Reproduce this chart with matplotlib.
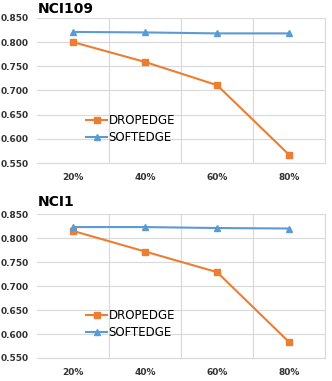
import matplotlib
matplotlib.use('Agg')
import matplotlib.pyplot as plt

cats = ['20%', '40%', '60%', '80%']
titles = ['NCI109', 'NCI1']
drop_nci109 = [0.800, 0.759, 0.711, 0.567]
soft_nci109 = [0.821, 0.820, 0.818, 0.818]
drop_nci1 = [0.815, 0.772, 0.729, 0.583]
soft_nci1 = [0.823, 0.823, 0.821, 0.820]
yticks = [0.550, 0.600, 0.650, 0.700, 0.750, 0.800, 0.850]

orange = '#ED7D31'
blue = '#5B9BD5'
gridc = '#D9D9D9'

fig = plt.figure(figsize=(3.32, 3.81), dpi=100)
ax1 = fig.add_axes([0.1114, 0.572, 0.868, 0.381])
ax2 = fig.add_axes([0.1114, 0.0604, 0.868, 0.3776])

# title tops in figure fraction (pixels from top: 2 and 195)
title_y = [1 - 2 / 381, 1 - 195 / 381]

for ax, title, ty, drop, soft in [(ax1, titles[0], title_y[0], drop_nci109, soft_nci109),
                                  (ax2, titles[1], title_y[1], drop_nci1, soft_nci1)]:
    x = range(len(cats))
    ax.plot(x, drop, color=orange, marker='s', markersize=4.5, lw=1.5, label='DROPEDGE')
    ax.plot(x, soft, color=blue, marker='^', markersize=4.5, lw=1.5, label='SOFTEDGE')
    ax.set_xlim(-0.5, 3.5)
    ax.set_ylim(0.55, 0.85)
    ax.set_yticks(yticks)
    ax.set_yticklabels(['%.3f' % v for v in yticks], fontsize=6.5, fontweight='bold', color='#333333')
    ax.set_xticks(list(x))
    ax.set_xticklabels(cats, fontsize=6.5, fontweight='bold', color='#333333')
    # excel-style gridlines between categories
    for v in [0.5, 1.5, 2.5]:
        ax.axvline(v, color=gridc, lw=0.8, zorder=0)
    ax.yaxis.grid(True, color=gridc, lw=0.8)
    ax.set_axisbelow(True)
    ax.tick_params(axis='y', length=0, pad=6)
    ax.tick_params(axis='x', length=0, pad=7)
    for s in ['top', 'left']:
        ax.spines[s].set_visible(False)
    ax.spines['right'].set_color(gridc)
    ax.spines['bottom'].set_color(gridc)
    ax.spines['right'].set_linewidth(0.8)
    ax.spines['bottom'].set_linewidth(0.8)
    fig.text(38 / 332, ty, title, fontsize=10, fontweight='bold', ha='left', va='top')
    ax.legend(loc='center left', bbox_to_anchor=(0.15, 0.235), frameon=False,
              fontsize=8.5, handlelength=1.8, handletextpad=0.1, labelspacing=0.3,
              borderpad=0)

fig.savefig('out.png', dpi=100)
